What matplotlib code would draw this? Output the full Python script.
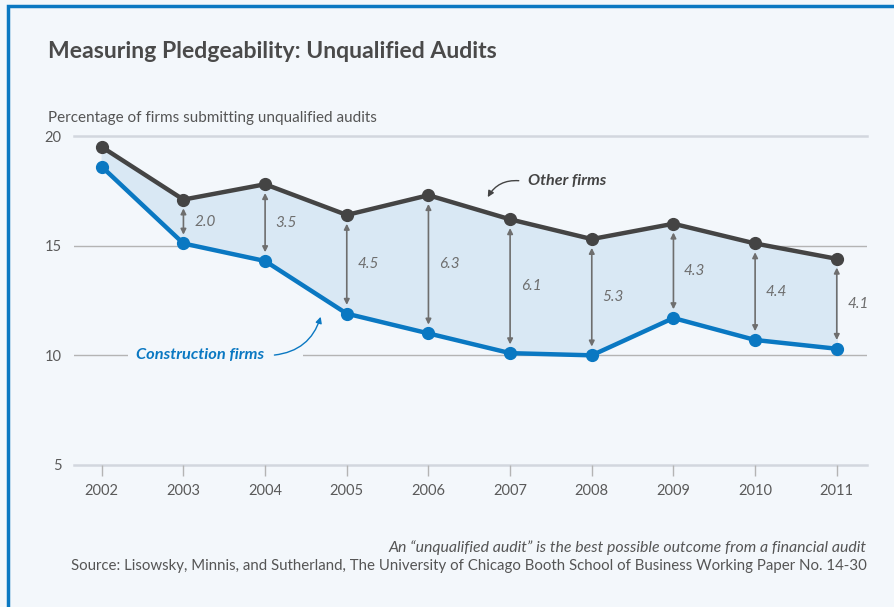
import matplotlib.pyplot as plt
import numpy as np
from matplotlib.patches import Rectangle

# donnees
annees = [2002, 2003, 2004, 2005, 2006, 2007, 2008, 2009, 2010, 2011]
autres = [19.5, 17.1, 17.8, 16.4, 17.3, 16.2, 15.3, 16.0, 15.1, 14.4]
construction = [18.6, 15.1, 14.3, 11.9, 11.0, 10.1, 10.0, 11.7, 10.7, 10.3]
yticks = [5, 10, 15, 20]

bleu = '#0a78c2'
gris_fonce = '#444444'
gris = '#6e6e6e'
fond = '#f3f7fb'

plt.rcParams['font.family'] = ['Lato', 'DejaVu Sans']

fig = plt.figure(figsize=(8.95, 6.07), dpi=100, facecolor=fond)
ax = fig.add_axes([74/895, (607-465)/607, (867-74)/895, (465-136)/607])
ax.set_facecolor(fond)
ax.set_xlim(2001.66, 2011.37)
ax.set_ylim(5, 20)

# cadre bleu
fig.add_artist(Rectangle((8/895, -0.1), 1.2, (607-6)/607 + 0.1, transform=fig.transFigure,
                         fill=False, edgecolor=bleu, linewidth=2.5))

# lignes de grille
for v in yticks:
    if v in (5, 20):
        ax.axhline(v, color='#d2d7de', lw=1.8, zorder=0, clip_on=False)
    else:
        ax.axhline(v, color='#b4b4b4', lw=1.0, zorder=0)

x = np.array(annees)
a = np.array(autres)
c = np.array(construction)

ax.fill_between(x, a, c, color='#d9e8f4', zorder=1)
ax.plot(x, a, color=gris_fonce, lw=3.2, marker='o', ms=8.5, zorder=4)
ax.plot(x, c, color=bleu, lw=3.2, marker='o', ms=8.5, zorder=4)

# fleches doubles pour les ecarts
for i in range(1, len(x)):
    ecart = a[i] - c[i]
    ax.annotate('', xy=(x[i], c[i] + 0.4), xytext=(x[i], a[i] - 0.4),
                arrowprops=dict(arrowstyle='<|-|>', color=gris, lw=1.2,
                                mutation_scale=8, shrinkA=0, shrinkB=0), zorder=3)
    ax.text(x[i] + 0.13, (a[i] + c[i]) / 2, f'{ecart:.1f}', color=gris,
            fontsize=11, style='italic', va='center', ha='left', zorder=3)

# etiquettes des series
ax.text(2007.22, 17.95, 'Other firms', color=gris_fonce, fontsize=11.6,
        fontweight='bold', style='italic', va='center', ha='left')
ax.annotate('', xy=(2006.71, 17.1), xytext=(2007.14, 17.95),
            arrowprops=dict(arrowstyle='-|>', color=gris_fonce, lw=1.0,
                            mutation_scale=9, connectionstyle='arc3,rad=0.35'))

# trou dans la ligne de 10 autour de l'etiquette
ax.add_patch(Rectangle((2002.32, 9.7), 2.14, 0.6, fc=fond, ec='none', zorder=0.5))
ax.text(2003.99, 10.0, 'Construction firms', color=bleu, fontsize=11.8,
        fontweight='bold', style='italic', va='center', ha='right', zorder=2)
ax.annotate('', xy=(2004.69, 11.88), xytext=(2004.08, 10.0),
            arrowprops=dict(arrowstyle='-|>', color=bleu, lw=1.0,
                            mutation_scale=9, connectionstyle='arc3,rad=0.35'))

# axes
for s in ax.spines.values():
    s.set_visible(False)
ax.set_xticks(annees)
ax.set_xticklabels([str(v) for v in annees])
ax.set_yticks(yticks)
ax.tick_params(axis='x', length=8, width=1, color='#b4b4b4', labelcolor='#5a5a5a',
               labelsize=10.5, pad=6)
ax.tick_params(axis='y', length=0, labelsize=10.5, labelcolor='#5a5a5a', pad=9)

# textes
fig.text(48/895, 1 - 52/607, 'Measuring Pledgeability: Unqualified Audits', fontsize=16.6,
         fontweight='bold', color='#4a4a4a', va='center', ha='left')
fig.text(48/895, 1 - 118/607, 'Percentage of firms submitting unqualified audits',
         fontsize=11, color='#555555', va='center', ha='left')
fig.text(867/895, 1 - 548/607, 'An \u201cunqualified audit\u201d is the best possible outcome from a financial audit',
         fontsize=11.4, style='italic', color='#555555', va='center', ha='right')
fig.text(867/895, 1 - 566/607,
         'Source: Lisowsky, Minnis, and Sutherland, The University of Chicago Booth School of Business Working Paper No. 14-30',
         fontsize=10.8, color='#555555', va='center', ha='right')

plt.savefig('out.png', dpi=100, facecolor=fond)
